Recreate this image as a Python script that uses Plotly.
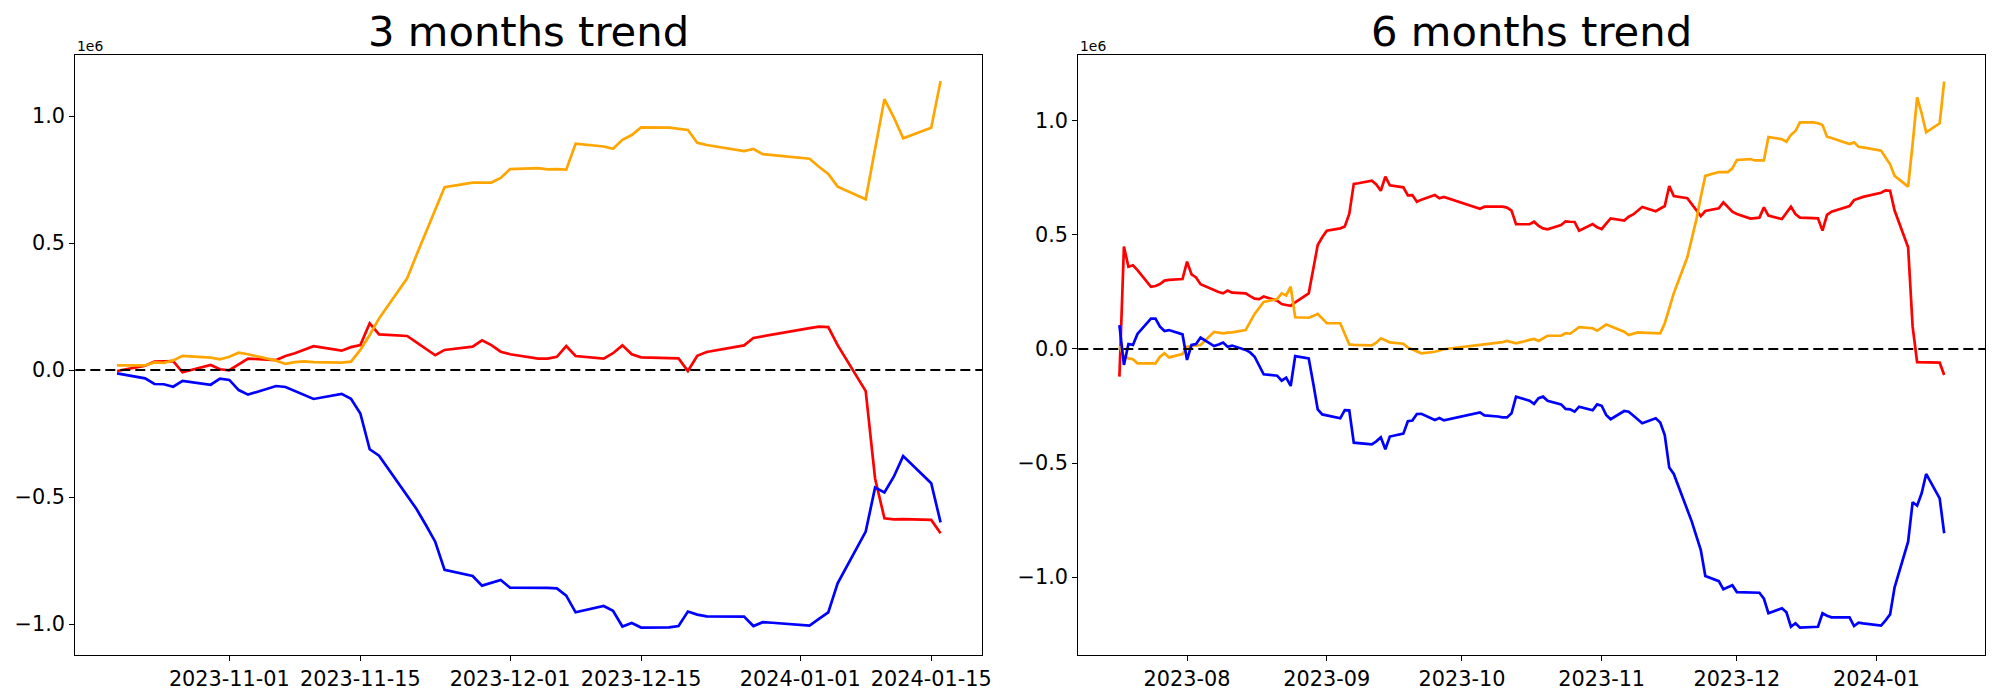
import plotly.graph_objects as go

# ---------------- 3 months panel (values in units of 1e6) ----------------
m3_dates = [
    "2023-10-20", "2023-10-23", "2023-10-24", "2023-10-25", "2023-10-26", "2023-10-27",
    "2023-10-30", "2023-10-31", "2023-11-01", "2023-11-02", "2023-11-03",
    "2023-11-06", "2023-11-07", "2023-11-08", "2023-11-09", "2023-11-10",
    "2023-11-13", "2023-11-14", "2023-11-15", "2023-11-16", "2023-11-17",
    "2023-11-20", "2023-11-21", "2023-11-22", "2023-11-23", "2023-11-24",
    "2023-11-27", "2023-11-28", "2023-11-29", "2023-11-30", "2023-12-01",
    "2023-12-04", "2023-12-05", "2023-12-06", "2023-12-07", "2023-12-08",
    "2023-12-11", "2023-12-12", "2023-12-13", "2023-12-14", "2023-12-15",
    "2023-12-18", "2023-12-19", "2023-12-20", "2023-12-21", "2023-12-22",
    "2023-12-26", "2023-12-27", "2023-12-28", "2023-12-29",
    "2024-01-02", "2024-01-03", "2024-01-04", "2024-01-05",
    "2024-01-08", "2024-01-09", "2024-01-10", "2024-01-11", "2024-01-12",
    "2024-01-15", "2024-01-16",
]
m3_red = [
    -0.004, 0.017, 0.033, 0.034, 0.035, -0.009,
    0.020, 0.003, -0.001, 0.022, 0.045,
    0.039, 0.055, 0.066, 0.080, 0.094,
    0.076, 0.090, 0.098, 0.184, 0.140,
    0.134, 0.109, 0.083, 0.058, 0.079,
    0.092, 0.117, 0.098, 0.072, 0.062,
    0.045, 0.045, 0.052, 0.094, 0.055,
    0.045, 0.066, 0.097, 0.062, 0.050,
    0.047, 0.046, -0.004, 0.056, 0.071,
    0.097, 0.126, 0.133, 0.140,
    0.165, 0.171, 0.169, 0.098,
    -0.083, -0.427, -0.584, -0.588, -0.587,
    -0.590, -0.643,
]
m3_orange = [
    0.018, 0.018, 0.030, 0.028, 0.038, 0.056,
    0.049, 0.042, 0.052, 0.068, 0.062,
    0.037, 0.024, 0.031, 0.034, 0.031,
    0.029, 0.033, 0.079, 0.138, 0.203,
    0.361, 0.453, 0.542, 0.630, 0.720,
    0.738, 0.738, 0.738, 0.756, 0.791,
    0.795, 0.790, 0.791, 0.789, 0.891,
    0.880, 0.871, 0.906, 0.925, 0.955,
    0.954, 0.950, 0.945, 0.895, 0.886,
    0.862, 0.870, 0.850, 0.846,
    0.832, 0.800, 0.772, 0.722,
    0.672, 0.870, 1.066, 0.995, 0.912,
    0.954, 1.138,
]
m3_blue = [
    -0.013, -0.033, -0.055, -0.056, -0.066, -0.043,
    -0.058, -0.034, -0.039, -0.079, -0.097,
    -0.063, -0.067, -0.083, -0.100, -0.114,
    -0.094, -0.113, -0.171, -0.312, -0.337,
    -0.495, -0.547, -0.610, -0.676, -0.787,
    -0.811, -0.849, -0.838, -0.827, -0.857,
    -0.857, -0.858, -0.860, -0.888, -0.954,
    -0.929, -0.948, -1.010, -0.996, -1.014,
    -1.013, -1.008, -0.951, -0.963, -0.970,
    -0.971, -1.008, -0.993, -0.995,
    -1.006, -0.980, -0.954, -0.840,
    -0.636, -0.463, -0.482, -0.420, -0.339,
    -0.446, -0.600,
]

# ---------------- 6 months panel (values in units of 1e6) ----------------
m6_dates = [
    "2023-07-17", "2023-07-18", "2023-07-19", "2023-07-20", "2023-07-21",
    "2023-07-24", "2023-07-25", "2023-07-26", "2023-07-27", "2023-07-28", "2023-07-31",
    "2023-08-01", "2023-08-02", "2023-08-03", "2023-08-04",
    "2023-08-07", "2023-08-08", "2023-08-09", "2023-08-10", "2023-08-11",
    "2023-08-14", "2023-08-15", "2023-08-16", "2023-08-17", "2023-08-18",
    "2023-08-21", "2023-08-22", "2023-08-23", "2023-08-24", "2023-08-25",
    "2023-08-28", "2023-08-29", "2023-08-30", "2023-08-31",
    "2023-09-01", "2023-09-04", "2023-09-05", "2023-09-06", "2023-09-07", "2023-09-08",
    "2023-09-11", "2023-09-12", "2023-09-13", "2023-09-14", "2023-09-15",
    "2023-09-18", "2023-09-19", "2023-09-20", "2023-09-21", "2023-09-22",
    "2023-09-25", "2023-09-26", "2023-09-27",
    "2023-10-05", "2023-10-06", "2023-10-09", "2023-10-10", "2023-10-11", "2023-10-12", "2023-10-13",
    "2023-10-16", "2023-10-17", "2023-10-18", "2023-10-19", "2023-10-20",
    "2023-10-23", "2023-10-24", "2023-10-25", "2023-10-26", "2023-10-27",
    "2023-10-30", "2023-10-31",
    "2023-11-01", "2023-11-02", "2023-11-03",
    "2023-11-06", "2023-11-07", "2023-11-08", "2023-11-09", "2023-11-10",
    "2023-11-13", "2023-11-14", "2023-11-15", "2023-11-16", "2023-11-17",
    "2023-11-20", "2023-11-21", "2023-11-22", "2023-11-23", "2023-11-24",
    "2023-11-27", "2023-11-28", "2023-11-29", "2023-11-30",
    "2023-12-01", "2023-12-04", "2023-12-05", "2023-12-06", "2023-12-07", "2023-12-08",
    "2023-12-11", "2023-12-12", "2023-12-13", "2023-12-14", "2023-12-15",
    "2023-12-18", "2023-12-19", "2023-12-20", "2023-12-21", "2023-12-22",
    "2023-12-26", "2023-12-27", "2023-12-28", "2023-12-29",
    "2024-01-02", "2024-01-03", "2024-01-04", "2024-01-05",
    "2024-01-08", "2024-01-09", "2024-01-10", "2024-01-11", "2024-01-12",
    "2024-01-15", "2024-01-16",
]
m6_red = [
    -0.121, 0.449, 0.361, 0.367, 0.346,
    0.273, 0.276, 0.285, 0.300, 0.303, 0.307,
    0.383, 0.327, 0.314, 0.284,
    0.256, 0.250, 0.244, 0.256, 0.247,
    0.244, 0.232, 0.221, 0.219, 0.230,
    0.212, 0.197, 0.193, 0.189, 0.205,
    0.244, 0.350, 0.456, 0.490,
    0.519, 0.529, 0.537, 0.592, 0.724, 0.727,
    0.738, 0.722, 0.694, 0.756, 0.718,
    0.709, 0.674, 0.675, 0.646, 0.655,
    0.675, 0.661, 0.667,
    0.615, 0.624, 0.624, 0.624, 0.620, 0.607, 0.547,
    0.547, 0.558, 0.540, 0.529, 0.525,
    0.544, 0.560, 0.558, 0.557, 0.519,
    0.548, 0.534,
    0.526, 0.550, 0.573,
    0.563, 0.580, 0.590, 0.605, 0.623,
    0.604, 0.615, 0.627, 0.715, 0.671,
    0.661, 0.635, 0.610, 0.583, 0.605,
    0.617, 0.643, 0.620, 0.602,
    0.592, 0.572, 0.574, 0.576, 0.621, 0.585,
    0.570, 0.597, 0.624, 0.592, 0.576,
    0.574, 0.573, 0.519, 0.588, 0.602,
    0.627, 0.653, 0.660, 0.667,
    0.685, 0.696, 0.694, 0.607,
    0.446, 0.098, -0.058, -0.058, -0.058,
    -0.060, -0.114,
]
m6_orange = [
    0.013, -0.034, -0.041, -0.045, -0.063,
    -0.063, -0.063, -0.034, -0.019, -0.037, -0.022,
    0.010, 0.013, 0.015, 0.018,
    0.075, 0.072, 0.069, 0.072, 0.073,
    0.083, 0.118, 0.154, 0.180, 0.206,
    0.219, 0.244, 0.235, 0.273, 0.139,
    0.137, 0.145, 0.154, 0.134,
    0.113, 0.113, 0.069, 0.020, 0.018, 0.017,
    0.016, 0.028, 0.047, 0.038, 0.029,
    0.023, 0.006, -0.002, -0.011, -0.019,
    -0.012, -0.006, -0.001,
    0.018, 0.020, 0.026, 0.030, 0.035, 0.030, 0.025,
    0.040, 0.044, 0.035, 0.045, 0.058,
    0.058, 0.069, 0.067, 0.080, 0.096,
    0.091, 0.080,
    0.094, 0.107, 0.100,
    0.076, 0.061, 0.067, 0.073, 0.072,
    0.070, 0.069, 0.113, 0.180, 0.244,
    0.402, 0.478, 0.566, 0.668, 0.759,
    0.776, 0.776, 0.776, 0.792,
    0.829, 0.833, 0.827, 0.827, 0.827, 0.930,
    0.920, 0.909, 0.939, 0.956, 0.994,
    0.994, 0.990, 0.982, 0.931, 0.925,
    0.899, 0.906, 0.887, 0.884,
    0.870, 0.840, 0.810, 0.759,
    0.712, 0.900, 1.104, 1.034, 0.950,
    0.990, 1.173,
]
m6_blue = [
    0.105, -0.070, 0.022, 0.018, 0.066,
    0.133, 0.133, 0.098, 0.079, 0.083, 0.064,
    -0.048, 0.018, 0.022, 0.050,
    0.013, 0.020, 0.028, 0.010, 0.015,
    -0.004, -0.015, -0.034, -0.070, -0.111,
    -0.117, -0.139, -0.126, -0.162, -0.031,
    -0.041, -0.150, -0.265, -0.287,
    -0.292, -0.304, -0.268, -0.269, -0.411, -0.413,
    -0.418, -0.405, -0.387, -0.440, -0.384,
    -0.371, -0.317, -0.314, -0.285, -0.284,
    -0.311, -0.303, -0.313,
    -0.278, -0.291, -0.296, -0.300, -0.300, -0.282, -0.209,
    -0.227, -0.241, -0.216, -0.209, -0.227,
    -0.243, -0.263, -0.265, -0.275, -0.253,
    -0.269, -0.243,
    -0.249, -0.289, -0.308,
    -0.272, -0.275, -0.292, -0.310, -0.326,
    -0.304, -0.322, -0.377, -0.520, -0.548,
    -0.705, -0.757, -0.820, -0.882, -0.996,
    -1.018, -1.054, -1.045, -1.036,
    -1.066, -1.067, -1.068, -1.069, -1.095, -1.159,
    -1.137, -1.155, -1.218, -1.203, -1.222,
    -1.220, -1.218, -1.159, -1.170, -1.177,
    -1.177, -1.215, -1.200, -1.203,
    -1.213, -1.190, -1.164, -1.045,
    -0.845, -0.672, -0.687, -0.633, -0.548,
    -0.655, -0.808,
]

titles = ["3 months trend", "6 months trend"]
m3_ticks = ["2023-11-01", "2023-11-15", "2023-12-01", "2023-12-15", "2024-01-01", "2024-01-15"]
m6_ticks = ["2023-08-01", "2023-09-01", "2023-10-01", "2023-11-01", "2023-12-01", "2024-01-01"]
m6_ticktext = ["2023-08", "2023-09", "2023-10", "2023-11", "2023-12", "2024-01"]
y_ticks = [-1.0, -0.5, 0.0, 0.5, 1.0]
y_ticktext = ["\u22121.0", "\u22120.5", "0.0", "0.5", "1.0"]

FONT = "DejaVu Sans"
W, H = 2000, 700
LW = 2.7
OFF = 8.0  # page body margin of the browser

fig = go.Figure()

panels = [
    ("x", "y", m3_dates, m3_red, m3_orange, m3_blue),
    ("x2", "y2", m6_dates, m6_red, m6_orange, m6_blue),
]
for xa, ya, d, r, o, b in panels:
    for vals, col in ((r, "red"), (o, "orange"), (b, "blue")):
        fig.add_trace(go.Scatter(x=d, y=vals, mode="lines", xaxis=xa, yaxis=ya,
                                 line=dict(color=col, width=LW), showlegend=False,
                                 hoverinfo="skip"))

# axes geometry (target pixels in the screenshot)
L1, R1 = 75.3 - OFF, 982.3 - OFF
L2, R2 = 1078.3 - OFF, 1985.3 - OFF
TOP, BOT = 55.3 - OFF, 655.0 - OFF
dom_y = [(H - BOT) / H, (H - TOP) / H]

common_x = dict(showgrid=False, zeroline=False, showline=True, linecolor="black",
                linewidth=1.1, mirror=True, ticks="outside", ticklen=5, tickwidth=1.1,
                tickcolor="black", tickfont=dict(family=FONT, size=20.8, color="black"),
                automargin=False, type="date")
common_y = dict(showgrid=False, zeroline=False, showline=True, linecolor="black",
                linewidth=1.1, mirror=True, ticks="outside", ticklen=5, tickwidth=1.1,
                tickcolor="black", tickfont=dict(family=FONT, size=20.8, color="black"),
                automargin=False, tickvals=y_ticks, ticktext=y_ticktext,
                domain=dom_y)

fig.update_layout(
    width=W, height=H,
    margin=dict(l=0, r=0, t=0, b=0),
    paper_bgcolor="white", plot_bgcolor="white",
    xaxis=dict(common_x, domain=[L1 / W, R1 / W], anchor="y",
               range=["2023-10-15 13:00", "2024-01-20 11:00"],
               tickvals=m3_ticks, ticktext=m3_ticks),
    yaxis=dict(common_y, anchor="x", range=[-1.122, 1.239]),
    xaxis2=dict(common_x, domain=[L2 / W, R2 / W], anchor="y2",
                range=["2023-07-07 21:00", "2024-01-25 03:00"],
                tickvals=m6_ticks, ticktext=m6_ticktext),
    yaxis2=dict(common_y, anchor="x2", range=[-1.342, 1.288]),
)

# dashed zero lines spanning each axes
for xr, yr in (("x domain", "y"), ("x2 domain", "y2")):
    fig.add_shape(type="line", xref=xr, yref=yr, x0=0, x1=1, y0=0, y1=0,
                  line=dict(color="black", width=2, dash="10px,5px"))

# titles and offset labels
for (l, r), t in zip(((L1, R1), (L2, R2)), titles):
    fig.add_annotation(x=(l + r) / 2 / W, y=1 - (32.0 - OFF) / H, xref="paper", yref="paper",
                       text=t, showarrow=False, xanchor="center", yanchor="middle",
                       font=dict(family=FONT, size=41.7, color="black"))
    fig.add_annotation(x=l / W, y=1 - (46 - OFF) / H, xref="paper", yref="paper",
                       text="1e6", showarrow=False, xanchor="left", yanchor="middle",
                       font=dict(family=FONT, size=13.9, color="black"))

fig.write_html("out.html")
